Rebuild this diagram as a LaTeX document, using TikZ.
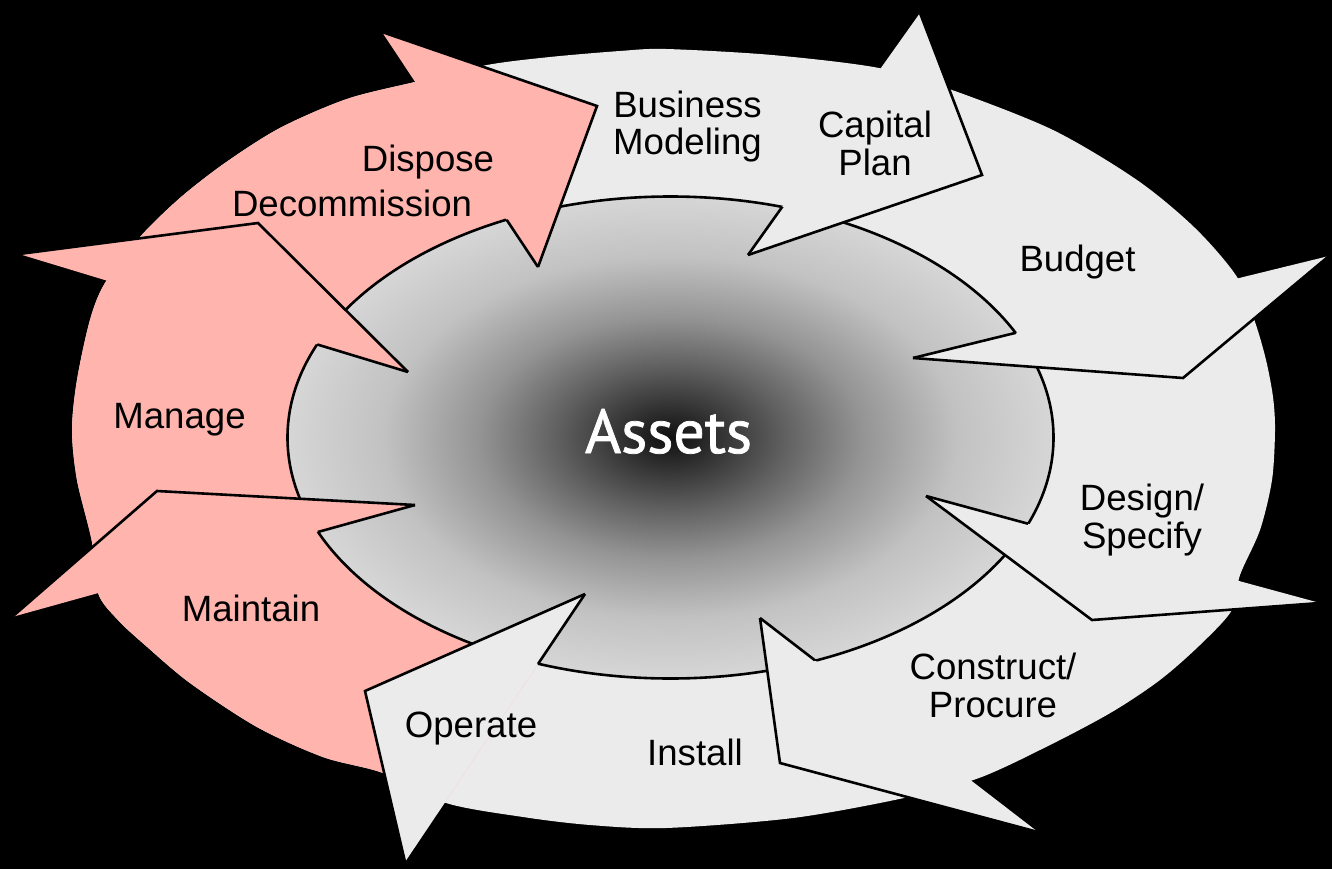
\documentclass[tikz,border=0pt]{standalone}
\usepackage{fontspec}
\setmainfont{Liberation Sans}
\newfontfamily\assetsfont[FakeBold=1.2]{PT Sans}
\definecolor{ringgray}{HTML}{EBEBEB}
\definecolor{ringpink}{HTML}{FFB4AE}
\pgfdeclareradialshading{assetshade}{\pgfpointorigin}{%
  rgb(0bp)=(0.06,0.06,0.06);
  rgb(3.75bp)=(0.22,0.22,0.22);
  rgb(7.5bp)=(0.38,0.38,0.38);
  rgb(12.5bp)=(0.58,0.58,0.58);
  rgb(18.75bp)=(0.76,0.76,0.76);
  rgb(25bp)=(0.84,0.84,0.84);
  rgb(50bp)=(0.84,0.84,0.84)}
\tikzset{
  outl/.style={draw=black, line width=2.6pt, line join=miter},
  lbl/.style={font=\fontsize{36.6}{37.5}\selectfont, text=black, inner sep=0pt, anchor=base, align=center},
  headgray/.style={fill=ringgray},
  headpink/.style={fill=ringpink},
}
\newcommand\outerring{plot[smooth cycle] coordinates {
 (487,65) (550,57) (620,51) (666,49) (772,55) (879,68) (952,90) (1053,130)
 (1137,180) (1195,228) (1237,277) (1255,322) (1266,360) (1273,397) (1275,430)
 (1272,480) (1260,530) (1240,575) (1232,610) (1200,645) (1160,680) (1112,712)
 (1050,745) (979,778) (904,798) (793,818) (666,828) (590,825) (523,817) (446,803)
 (383,773) (323,757) (257,727) (190,683) (145,645) (118,620) (98,593) (92,542)
 (77,480) (72,430) (77,380) (90,320) (105,283) (140,237) (180,198) (225,163)
 (280,128) (347,99) (415,82)}}
\newcommand\innerring{(670.5,437.5) ellipse [x radius=383, y radius=241]}
\newcommand\arrowhd[4]{%
  \fill[#1] (#2) -- (#3) -- (#4) -- cycle;
  \draw[outl] (#2) -- (#3) -- (#4);
  \begin{scope}\clip \innerring; \draw[outl] (#4) -- (#2);\end{scope}}
\begin{document}
\begin{tikzpicture}[x=1pt,y=-1pt]
\useasboundingbox (0,0) rectangle (1332,869);
\fill[black] (0,0) rectangle (1332,869);
% outer ring
\fill[ringgray] \outerring;
\begin{scope}
 \clip \outerring;
 \fill[ringpink] (670.5,466.7) -- (304,-86) -- (-60,-86) -- (-60,960) -- (297,1023) -- cycle;
\end{scope}
% centre
\shadedraw[shading=assetshade, outl] \innerring;
% arrow heads
\coordinate (capwo) at (920,13);   \coordinate (captip) at (982,175);
\coordinate (capwi) at (748,255);
\coordinate (budwo) at (1329,256); \coordinate (budtip) at (1183,378);
\coordinate (budwi) at (913,358);
\coordinate (deswo) at (1320,603); \coordinate (destip) at (1092,620);
\coordinate (deswi) at (926,496);
\coordinate (conwo) at (1038,832); \coordinate (contip) at (780,763);
\coordinate (conwi) at (760,618);
\coordinate (opwo) at (405,862);   \coordinate (optip) at (365,691);
\coordinate (opwi) at (585,594);
\coordinate (maiwo) at (12,617);   \coordinate (maitip) at (157,491);
\coordinate (maiwi) at (415,505);
\coordinate (manwo) at (19,254);   \coordinate (mantip) at (258,223);
\coordinate (manwi) at (408,372);
\coordinate (diswo) at (382,32);   \coordinate (distip) at (597,106);
\coordinate (diswi) at (538,267);
\arrowhd{headgray}{capwo}{captip}{capwi}
\arrowhd{headgray}{budwo}{budtip}{budwi}
\arrowhd{headgray}{deswo}{destip}{deswi}
\arrowhd{headgray}{conwo}{contip}{conwi}
\arrowhd{headgray}{opwo}{optip}{opwi}
\arrowhd{headpink}{maiwo}{maitip}{maiwi}
\arrowhd{headpink}{manwo}{mantip}{manwi}
\arrowhd{headpink}{diswo}{distip}{diswi}
% labels
\node[lbl] (bizmod) at (687.5,155) {Business\\Modeling};
\node[lbl] (capplan) at (875,175.5) {Capital\\Plan};
\node[lbl] (budget) at (1077.5,271) {Budget};
\node[lbl] (design) at (1142,548) {Design/\\Specify};
\node[lbl] (construct) at (993,717) {Construct/\\Procure};
\node[lbl] (install) at (695,765) {Install};
\node[lbl] (operate) at (471,737) {Operate};
\node[lbl] (maintain) at (251,621) {Maintain};
\node[lbl] (manage) at (179.5,428) {Manage};
\node[lbl] (dispose) at (428,171.5) {Dispose};
\node[lbl] (decomm) at (352,216.5) {Decommission};
\node[inner sep=0pt, anchor=base, text=white, font=\assetsfont\fontsize{62}{62}\selectfont] (assets) at (668.5,453) {Assets};
\end{tikzpicture}
\end{document}
